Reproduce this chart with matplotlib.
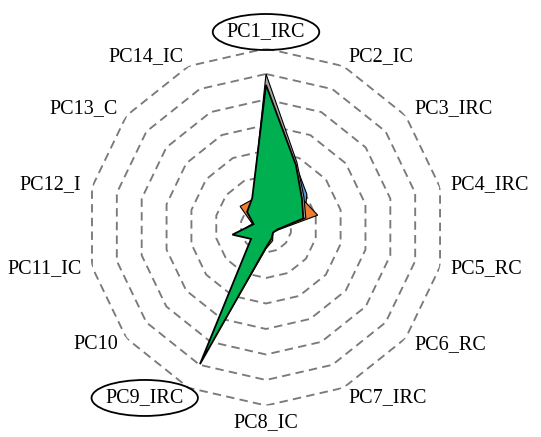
import matplotlib.pyplot as plt
import numpy as np
from matplotlib.patches import Ellipse

# axis labels, clockwise from the top
labels = ["PC1_IRC", "PC2_IC", "PC3_IRC", "PC4_IRC", "PC5_RC", "PC6_RC",
          "PC7_IRC", "PC8_IC", "PC9_IRC", "PC10", "PC11_IC", "PC12_I",
          "PC13_C", "PC14_IC"]

# series values (ring step = 0.1)
blue = [0.530, 0.270, 0.205, 0.155, 0.040, 0.030, 0.045, 0.070, 0.550, 0.070,
        0.120, 0.045, 0.090, 0.115]
orange = [0.540, 0.260, 0.180, 0.208, 0.050, 0.035, 0.060, 0.085, 0.570, 0.070,
          0.120, 0.055, 0.130, 0.120]
gray = [0.600, 0.280, 0.190, 0.160, 0.040, 0.030, 0.045, 0.070, 0.560, 0.070,
        0.120, 0.045, 0.090, 0.120]
green = [0.557, 0.270, 0.180, 0.150, 0.045, 0.035, 0.050, 0.080, 0.597, 0.075,
         0.135, 0.050, 0.095, 0.125]

ring_levels = [0.1, 0.2, 0.3, 0.4, 0.5, 0.6, 0.7]
circled = ["PC1_IRC", "PC9_IRC"]

series = [(blue, "#5B9BD5", 0.8), (orange, "#ED7D31", 0.8),
          (gray, "#A5A5A5", 0.8), (green, "#00B050", 1.3)]

plt.rcParams["font.family"] = ["Liberation Serif", "DejaVu Serif"]

n = len(labels)
theta = np.arange(n) * 2 * np.pi / n
theta_closed = np.append(theta, theta[0])

fig = plt.figure(figsize=(5.41, 4.37), dpi=100)
ax = fig.add_axes([0.1617, 0.0721, 0.66, 0.817], projection="polar")
ax.set_theta_zero_location("N")
ax.set_theta_direction(-1)
ax.set_ylim(0, ring_levels[-1])
ax.grid(False)
ax.spines["polar"].set_visible(False)
ax.set_xticks([])
ax.set_yticks([])
ax.patch.set_visible(False)

# polygon gridlines
for lvl in ring_levels:
    ax.plot(theta_closed, np.full(n + 1, lvl), color="#7a7a7a", lw=1.35,
            ls=(0, (4.5, 2.8)), zorder=1)

for vals, col, lw in series:
    v = np.append(vals, vals[0])
    ax.fill(theta_closed, v, facecolor=col, edgecolor="black", lw=lw,
            zorder=3, clip_on=False)

texts = {}
rmax = ring_levels[-1]
for ang, lab in zip(theta, labels):
    s = np.sin(ang)
    if abs(s) < 0.1:
        ha, r = "center", rmax * 1.095
    else:
        ha, r = ("left" if s > 0 else "right"), rmax * 1.06
    texts[lab] = ax.text(ang, r, lab, ha=ha, va="center", fontsize=14.5,
                         color="black")

# ellipses round the highlighted labels
fig.canvas.draw()
renderer = fig.canvas.get_renderer()
inv = fig.transFigure.inverted()
for lab in circled:
    bb = texts[lab].get_window_extent(renderer)
    (x0, y0), (x1, y1) = inv.transform([[bb.x0 - 14, bb.y0 - 9],
                                        [bb.x1 + 14, bb.y1 + 8]])
    fig.add_artist(Ellipse(((x0 + x1) / 2, (y0 + y1) / 2), x1 - x0, y1 - y0,
                           transform=fig.transFigure, fill=False,
                           edgecolor="black", lw=1.3))

fig.savefig("out.png", dpi=100)
